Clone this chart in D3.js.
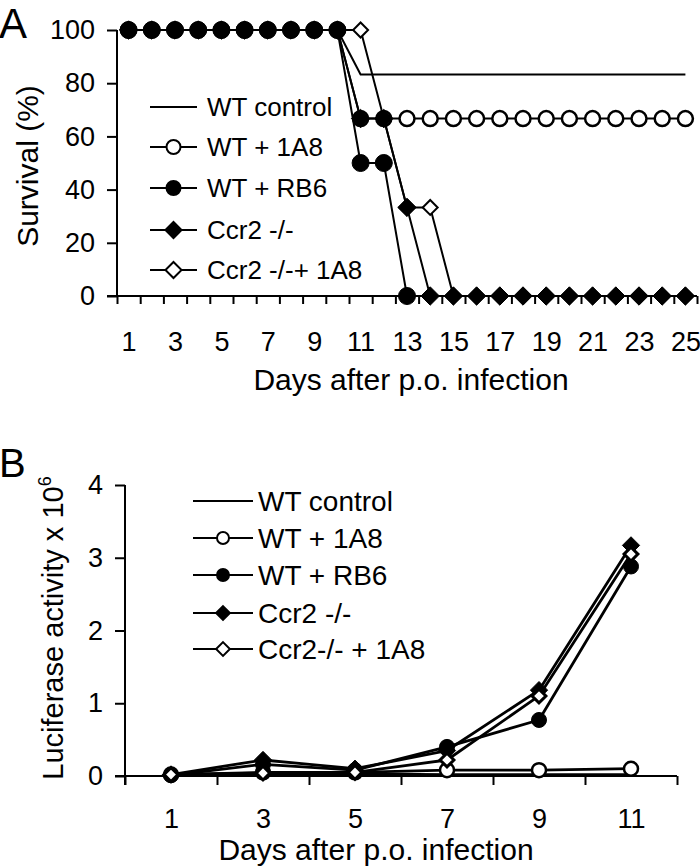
<!DOCTYPE html>
<html><head><meta charset="utf-8">
<script src="https://cdn.jsdelivr.net/npm/d3@7"></script>
<style>
html,body{margin:0;padding:0;background:#fff;}
text{font-family:"Liberation Sans",Arial,Helvetica,sans-serif;fill:#000;}
</style></head>
<body>
<svg id="chart" width="700" height="868"></svg>
<script>
// ---------- Panel A data ----------
const daysA = [1,2,3,4,5,6,7,8,9,10,11,12,13,14,15,16,17,18,19,20,21,22,23,24,25];
const xLabelsA = [1,3,5,7,9,11,13,15,17,19,21,23,25];
const yTicksA = [0,20,40,60,80,100];
const wtControlA = [100,100,100,100,100,100,100,100,100,100,83.3,83.3,83.3,83.3,83.3,83.3,83.3,83.3,83.3,83.3,83.3,83.3,83.3,83.3,83.3];
const wt1A8A     = [100,100,100,100,100,100,100,100,100,100,66.7,66.7,66.7,66.7,66.7,66.7,66.7,66.7,66.7,66.7,66.7,66.7,66.7,66.7,66.7];
const wtRB6A     = [100,100,100,100,100,100,100,100,100,100,50,50,0];
const ccr2A      = [100,100,100,100,100,100,100,100,100,100,66.7,66.7,33.3,0,0,0,0,0,0,0,0,0,0,0,0];
const ccr21A8A   = [100,100,100,100,100,100,100,100,100,100,100,66.7,33.3,33.3,0,0,0,0,0,0,0,0,0,0,0];

// ---------- Panel B data ----------
const daysB = [1,3,5,7,9,11];
const yTicksB = [0,1,2,3,4];
const wtControlB = [0.02,0.03,0.03,0.02,0.02,0.02];
const wt1A8B     = [0.02,0.05,0.05,0.08,0.08,0.10];
const wtRB6B     = [0.01,0.16,0.08,0.40,0.77,2.88];
const ccr2B      = [0.02,0.22,0.10,0.35,1.18,3.17];
const ccr21A8B   = [0.02,0.04,0.05,0.22,1.10,3.05];

const legendA = ["WT control","WT + 1A8","WT + RB6","Ccr2 -/-","Ccr2 -/-+ 1A8"];
const legendB = ["WT control","WT + 1A8","WT + RB6","Ccr2 -/-","Ccr2-/- + 1A8"];
const markerTypes = ["none","openCircle","filledCircle","filledDiamond","openDiamond"];

const svg = d3.select("#chart");

function drawMarker(g, type, x, y, sz, sw) {
  if (type === "openCircle" || type === "filledCircle") {
    g.append("circle").attr("cx", x).attr("cy", y).attr("r", sz)
      .attr("fill", type === "openCircle" ? "#fff" : "#000")
      .attr("stroke", "#000").attr("stroke-width", sw);
  } else if (type === "openDiamond" || type === "filledDiamond") {
    const s = sz * 1.15;
    g.append("path")
      .attr("d", `M${x},${y - s}L${x + s},${y}L${x},${y + s}L${x - s},${y}Z`)
      .attr("fill", type === "openDiamond" ? "#fff" : "#000")
      .attr("stroke", "#000").attr("stroke-width", sw).attr("stroke-linejoin", "miter");
  }
}

function drawSeries(g, x, y, days, vals, type, lw, msz, msw) {
  const pts = vals.map((v, i) => [days[i], v]);
  g.append("path").datum(pts)
    .attr("fill", "none").attr("stroke", "#000").attr("stroke-width", lw)
    .attr("stroke-linejoin", "round")
    .attr("d", d3.line().x(d => x(d[0])).y(d => y(d[1])));
  if (type !== "none") pts.forEach(d => drawMarker(g, type, x(d[0]), y(d[1]), msz, msw));
}

function drawLegend(g, names, x0, x1, xt, ys, fs, msz, msw, lw) {
  names.forEach((n, i) => {
    const yy = ys[i];
    g.append("line").attr("x1", x0).attr("x2", x1).attr("y1", yy).attr("y2", yy)
      .attr("stroke", "#000").attr("stroke-width", lw);
    drawMarker(g, markerTypes[i], (x0 + x1) / 2, yy, msz, msw);
    g.append("text").attr("x", xt).attr("y", yy).attr("dy", "0.36em")
      .attr("font-size", fs).text(n);
  });
}

function styleAxis(sel, fs) {
  sel.select(".domain").remove();
  sel.selectAll(".tick line").attr("stroke", "#000").attr("stroke-width", 2);
  sel.selectAll(".tick text").attr("font-size", fs).attr("fill", "#000")
     .attr("font-family", '"Liberation Sans",Arial,sans-serif');
}

// ================= Panel A =================
{
  const g = svg.append("g");
  const x = d3.scaleLinear().domain([0.5, 25.5]).range([117, 697]);
  const y = d3.scaleLinear().domain([0, 100]).range([296, 30]);

  const ya = g.append("g").attr("transform", `translate(${x(0.5)},0)`)
    .call(d3.axisLeft(y).tickValues(yTicksA).tickSize(10).tickPadding(12));
  styleAxis(ya, 27);
  g.append("line").attr("x1", x(0.5)).attr("x2", x(0.5)).attr("y1", y(100)).attr("y2", y(0))
    .attr("stroke", "#000").attr("stroke-width", 2);

  const bounds = d3.range(0, daysA.length + 1).map(k => daysA[0] - 0.5 + k);
  const xt = g.append("g").attr("transform", `translate(0,${y(0)})`)
    .call(d3.axisBottom(x).tickValues(bounds).tickSize(8).tickFormat(""));
  styleAxis(xt, 26);
  const xl = g.append("g").attr("transform", `translate(0,${y(0)})`)
    .call(d3.axisBottom(x).tickValues(xLabelsA).tickSize(0).tickPadding(36).tickFormat(d3.format("d")));
  styleAxis(xl, 27);
  g.append("line").attr("x1", x(0.5) - 10).attr("x2", x(25.5)).attr("y1", y(0)).attr("y2", y(0))
    .attr("stroke", "#000").attr("stroke-width", 2);

  drawSeries(g, x, y, daysA, wtControlA, "none", 2, 0, 0);
  drawSeries(g, x, y, daysA, ccr21A8A, "openDiamond", 2, 6.5, 2);
  drawSeries(g, x, y, daysA, wt1A8A, "openCircle", 2, 7.5, 2.5);
  drawSeries(g, x, y, daysA, ccr2A, "filledDiamond", 2, 8, 1);
  drawSeries(g, x, y, daysA, wtRB6A, "filledCircle", 2, 8.5, 1);

  drawLegend(g, legendA, 150, 197, 207, [107, 147, 188, 230, 270], 26, 7, 2, 2);

  g.append("text").attr("transform", "translate(38,166) rotate(-90)")
    .attr("text-anchor", "middle").attr("font-size", 30).text("Survival (%)");
  g.append("text").attr("x", 411).attr("y", 390).attr("text-anchor", "middle")
    .attr("font-size", 30).text("Days after p.o. infection");
  g.append("text").attr("x", -1).attr("y", 38).attr("font-size", 42).text("A");
}

// ================= Panel B =================
{
  const g = svg.append("g");
  const x = d3.scaleLinear().domain([0, 12]).range([125, 677]);
  const y = d3.scaleLinear().domain([0, 4]).range([776, 485]);

  const ya = g.append("g").attr("transform", `translate(${x(0)},0)`)
    .call(d3.axisLeft(y).tickValues(yTicksB).tickSize(10).tickPadding(12).tickFormat(d3.format("d")));
  styleAxis(ya, 27);
  g.append("line").attr("x1", x(0)).attr("x2", x(0)).attr("y1", y(4)).attr("y2", y(0) + 9)
    .attr("stroke", "#000").attr("stroke-width", 2);

  const bounds = [0,2,4,6,8,10,12];
  const xt = g.append("g").attr("transform", `translate(0,${y(0)})`)
    .call(d3.axisBottom(x).tickValues(bounds).tickSize(9).tickFormat(""));
  styleAxis(xt, 26);
  const xl = g.append("g").attr("transform", `translate(0,${y(0)})`)
    .call(d3.axisBottom(x).tickValues(daysB).tickSize(0).tickPadding(33).tickFormat(d3.format("d")));
  styleAxis(xl, 27);
  g.append("line").attr("x1", x(0) - 10).attr("x2", x(12)).attr("y1", y(0)).attr("y2", y(0))
    .attr("stroke", "#000").attr("stroke-width", 2);

  drawSeries(g, x, y, daysB, wtControlB, "none", 2.8, 0, 0);
  drawSeries(g, x, y, daysB, wt1A8B, "openCircle", 2.8, 7, 2.5);
  drawSeries(g, x, y, daysB, wtRB6B, "filledCircle", 2.8, 7.5, 1);
  drawSeries(g, x, y, daysB, ccr2B, "filledDiamond", 2.8, 7.5, 1);
  drawSeries(g, x, y, daysB, ccr21A8B, "openDiamond", 2.8, 6, 3);

  drawLegend(g, legendB, 193, 253, 258, [501, 538, 575, 613, 649], 28, 6, 2, 2);

  const yt = g.append("text").attr("transform", "translate(63,628) rotate(-90)")
    .attr("text-anchor", "middle").attr("font-size", 29);
  yt.append("tspan").text("Luciferase activity x 10");
  yt.append("tspan").attr("font-size", 18).attr("dy", -12).text("6");
  g.append("text").attr("x", 376).attr("y", 860).attr("text-anchor", "middle")
    .attr("font-size", 30).text("Days after p.o. infection");
  g.append("text").attr("x", -1).attr("y", 477).attr("font-size", 40).text("B");
}
</script>
</body></html>
